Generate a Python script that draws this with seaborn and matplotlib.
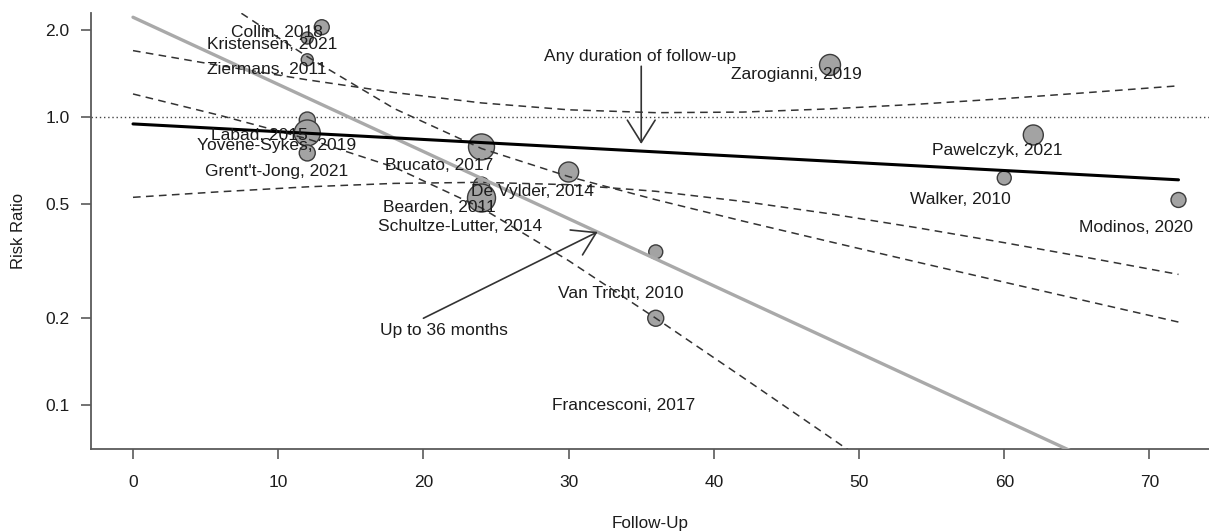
import numpy as np
import pandas as pd
import seaborn as sns
import matplotlib.pyplot as plt

# studies: follow-up (months), risk ratio, weight used for bubble size
study = ["Collin, 2018", "Kristensen, 2021", "Ziermans, 2011", "Labad, 2015",
         "Yovene-Sykes, 2019", "Grent't-Jong, 2021", "Brucato, 2017", "Bearden, 2011",
         "Schultze-Lutter, 2014", "De Vylder, 2014", "Van Tricht, 2010", "Francesconi, 2017",
         "Zarogianni, 2019", "Walker, 2010", "Pawelczyk, 2021", "Modinos, 2020"]
follow_up = [13, 12, 12, 12, 12, 12, 24, 24, 24, 30, 36, 36, 48, 60, 62, 72]
risk_ratio = [2.05, 1.88, 1.58, 0.976, 0.88, 0.75, 0.787, 0.58, 0.523, 0.644,
              0.34, 0.20, 1.516, 0.614, 0.866, 0.515]
weight = [56, 36, 36, 64, 169, 64, 169, 64, 196, 100, 49, 64, 110, 49, 100, 56]

# where each study label sits
label_fu = [9.9, 9.6, 9.2, 8.7, 9.9, 9.9, 21.1, 21.1, 22.5, 27.5, 33.6, 33.8,
            45.7, 57.0, 59.5, 69.1]
label_rr = [1.97, 1.78, 1.456, 0.859, 0.793, 0.649, 0.676, 0.483, 0.418, 0.549,
            0.243, 0.0993, 1.41, 0.515, 0.762, 0.412]

# fitted meta-regression lines
fit_months = [0, 72]
rr_all = [0.946, 0.605]      # any duration of follow-up
rr_36 = [2.22, 0.0465]       # up to 36 months

# confidence bands
ci_months = [0, 6, 12, 18, 24, 30, 36, 42, 48, 54, 60, 66, 72]
all_upper = [1.70, 1.508, 1.346, 1.216, 1.119, 1.059, 1.035, 1.040, 1.067, 1.107, 1.158, 1.218, 1.283]
all_lower = [0.526, 0.550, 0.572, 0.588, 0.593, 0.582, 0.552, 0.509, 0.461, 0.4125, 0.366, 0.323, 0.284]
m36_upper = [4.11, 2.563, 1.620, 1.069, 0.777, 0.621, 0.516, 0.435, 0.3688, 0.3134, 0.2669, 0.2275, 0.194]
m36_lower = [1.202, 1.0125, 0.840, 0.669, 0.483, 0.317, 0.2001, 0.1246, 0.0772, 0.0476, 0.0294, 0.0181, 0.0111]

y_ticks = [0.1, 0.2, 0.5, 1.0, 2.0]
x_ticks = [0, 10, 20, 30, 40, 50, 60, 70]

df = pd.DataFrame({"study": study, "follow_up": follow_up, "rr": risk_ratio, "weight": weight})

sns.set_theme(style="ticks")
plt.rcParams["font.family"] = ["Liberation Sans", "DejaVu Sans"]
txt = "#1c1c1c"
axc = "#5a5a5a"

fig = plt.figure(figsize=(12.09, 5.32), dpi=100)
ax = fig.add_axes([0.0753, 0.156, 0.9247, 0.8195])
ax.set_yscale("log")

ax.axhline(1.0, color="#444444", lw=1.0, linestyle=(0, (1, 2)), zorder=1)

dash = (0, (5, 3.5))
for yy in [all_upper, all_lower, m36_upper, m36_lower]:
    sns.lineplot(x=ci_months, y=yy, ax=ax, color="#333333", lw=1.1, linestyle=dash,
                 estimator=None, sort=False, zorder=3)

sns.scatterplot(data=df, x="follow_up", y="rr", size="weight", sizes=(74.6, 406.4),
                size_norm=(36, 196), color="#a3a3a3", edgecolor="#3c3c3c", linewidth=1.0,
                legend=False, ax=ax, zorder=2)

sns.lineplot(x=fit_months, y=rr_36, ax=ax, color="#a9a9a9", lw=2.4,
             estimator=None, sort=False, zorder=4)
sns.lineplot(x=fit_months, y=rr_all, ax=ax, color="black", lw=2.2,
             estimator=None, sort=False, zorder=5)

for name, lx, ly in zip(study, label_fu, label_rr):
    ax.text(lx, ly, name, ha="center", va="center", fontsize=12.5, color=txt, zorder=6)

arrow = dict(arrowstyle="->,head_length=1.6,head_width=1.0", color="#333333", lw=1.2,
             shrinkA=0, shrinkB=0, mutation_scale=10)
ax.annotate("", xy=(35, 0.806), xytext=(35, 1.50), arrowprops=arrow, zorder=6)
ax.text(34.9, 1.62, "Any duration of follow-up", ha="center", va="center",
        fontsize=12.5, color=txt, zorder=6)
ax.annotate("", xy=(32, 0.399), xytext=(20.0, 0.2), arrowprops=arrow, zorder=6)
ax.text(21.4, 0.181, "Up to 36 months", ha="center", va="center",
        fontsize=12.5, color=txt, zorder=6)

ax.set_xlim(-2.89, 74.1)
ax.set_ylim(0.0703, 2.296)
ax.set_xticks(x_ticks)
ax.set_xticklabels([str(t) for t in x_ticks])
ax.set_yticks(y_ticks)
ax.set_yticklabels([f"{t:.1f}" for t in y_ticks])
ax.minorticks_off()

for s in ["top", "right"]:
    ax.spines[s].set_visible(False)
for s in ["left", "bottom"]:
    ax.spines[s].set_color(axc)
    ax.spines[s].set_linewidth(1.3)
ax.tick_params(axis="both", length=7.5, width=1.2, color=axc, labelsize=12.5, labelcolor=txt)
ax.tick_params(axis="y", pad=8)
ax.tick_params(axis="x", pad=11)

ax.set_xlabel("Follow-Up", fontsize=12.3, color=txt, labelpad=19)
ax.set_ylabel("Risk Ratio", fontsize=12, color=txt, labelpad=14)
ax.grid(False)

fig.savefig("out.png", dpi=100)
